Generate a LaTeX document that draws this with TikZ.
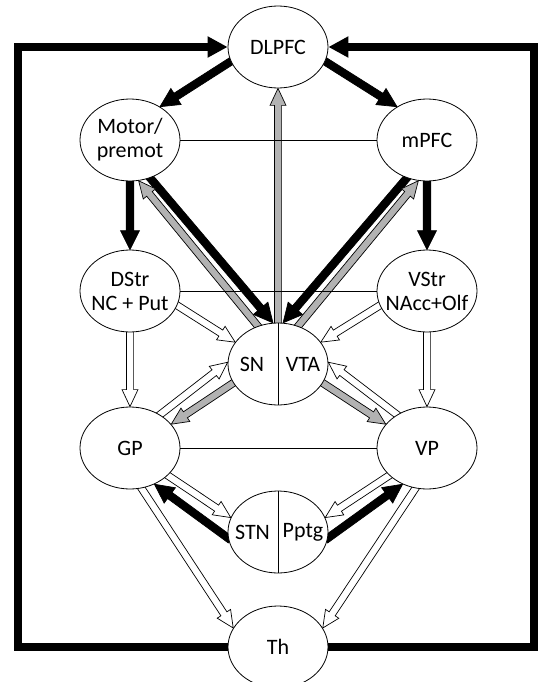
\documentclass[tikz,border=0pt]{standalone}
\usepackage{fontspec}
\setmainfont{Carlito}
\usetikzlibrary{shapes.geometric,calc,arrows.meta}
\pgfdeclarelayer{back}
\pgfsetlayers{back,main}
\definecolor{shade}{gray}{0.70}

% Block arrow drawn as an outlined polygon:
% #1 fill, #2 start, #3 tip, #4 half shaft width, #5 half head width, #6 head length
\newcommand\shaftarrow[6]{%
  \path ($(#2)!-3pt!(#3)$) coordinate (base) (#3) coordinate (tip)
        ($(#3)!#6!(#2)$) coordinate (neck);
  \filldraw[fill=#1, draw=black, line width=0.7pt, line join=miter, miter limit=10]
    ($(base)!#4!90:(tip)$) -- ($(neck)!#4!-90:(base)$) -- ($(neck)!#5!-90:(base)$) -- (tip)
    -- ($(neck)!#5!90:(base)$) -- ($(neck)!#4!90:(base)$) -- ($(base)!#4!-90:(tip)$) -- cycle;
}
\newcommand\solidarrow[2]{\shaftarrow{black}{#1}{#2}{3.8pt}{9.5pt}{19pt}}
\newcommand\greyarrow[2]{\shaftarrow{shade}{#1}{#2}{3.6pt}{8pt}{17pt}}
\newcommand\openarrow[2]{\shaftarrow{white}{#1}{#2}{3.6pt}{8pt}{17pt}}

\begin{document}
\begin{tikzpicture}[x=1pt,y=-1pt,
  region/.style={ellipse, draw, line width=0.8pt, fill=white,
    minimum width=100pt, minimum height=82pt, inner sep=0pt},
  txt/.style={font=\fontsize{22}{24}\selectfont, inner sep=0pt, align=center},
  link/.style={line width=0.8pt},
  feedback/.style={line width=8pt, line join=miter,
    -{Triangle[length=20pt,width=20pt]}}
]
\useasboundingbox (0,0) rectangle (538,682);

% regions
\node[region] (dlpfc) at (278,47)  {};
\node[region] (motor) at (130,140) {};
\node[region] (mpfc)  at (427,140) {};
\node[region] (dstr)  at (130,291) {};
\node[region] (vstr)  at (427,291) {};
\node[region] (sn)    at (278,364) {};
\node[region] (gp)    at (130,448) {};
\node[region] (vp)    at (427,448) {};
\node[region] (stn)   at (278,532) {};
\node[region] (th)    at (278,647) {};

\node[txt] at (dlpfc) {DLPFC};
\node[txt] at (motor) {Motor/\\premot};
\node[txt] at (mpfc)  {mPFC};
\node[txt] at (dstr)  {DStr\\NC + Put};
\node[txt] at (vstr)  {VStr\\NAcc+Olf};
\node[txt] at (gp)    {GP};
\node[txt] at (vp)    {VP};
\node[txt] at (th)    {Th};

% split nuclei
\draw[link] (sn.north) -- (sn.south);
\node[txt] at ($(sn.center)+(-26,0)$) {SN};
\node[txt] at ($(sn.center)+(25,0)$)  {VTA};
\draw[link] (stn.north) -- (stn.south);
\node[txt] at ($(stn.center)+(-25.5,0)$) {STN};
\node[txt] at ($(stn.center)+(25,0)$)  {Pptg};

% level connections
\draw[link] (motor) -- (mpfc);
\draw[link] (dstr) -- (vstr);
\draw[link] (gp) -- (vp);

\coordinate (cornerL) at (17.5,47);
\coordinate (cornerR) at (533.5,47);

\begin{pgfonlayer}{back}
  % thalamic return to DLPFC
  \draw[feedback] (th.west) -| (cornerL) -- (dlpfc.west);
  \draw[feedback] (th.east) -| (cornerR) -- (dlpfc.east);

  % solid projections
  \solidarrow{dlpfc.197}{motor.48}
  \solidarrow{dlpfc.-17}{mpfc.132}
  \solidarrow{motor.south}{dstr.north}
  \solidarrow{mpfc.south}{vstr.north}
  \solidarrow{motor.-62}{sn.97}
  \solidarrow{mpfc.242}{sn.83}
  \solidarrow{stn.187}{gp.-56}
  \solidarrow{stn.-7}{vp.236}

  % dopaminergic projections
  \greyarrow{sn.north}{dlpfc.south}
  \greyarrow{sn.118}{motor.-78}
  \greyarrow{sn.62}{mpfc.258}
  \greyarrow{sn.203}{gp.30}
  \greyarrow{sn.-23}{vp.150}

  % open projections
  \openarrow{dstr.-17}{sn.153}
  \openarrow{vstr.197}{sn.27}
  \openarrow{dstr.south}{gp.north}
  \openarrow{vstr.south}{vp.north}
  \openarrow{gp.48}{sn.178}
  \openarrow{vp.132}{sn.2}
  \openarrow{gp.-36}{stn.163}
  \openarrow{vp.216}{stn.17}
  \openarrow{gp.-74}{th.157}
  \openarrow{vp.254}{th.23}
\end{pgfonlayer}
\end{tikzpicture}
\end{document}
